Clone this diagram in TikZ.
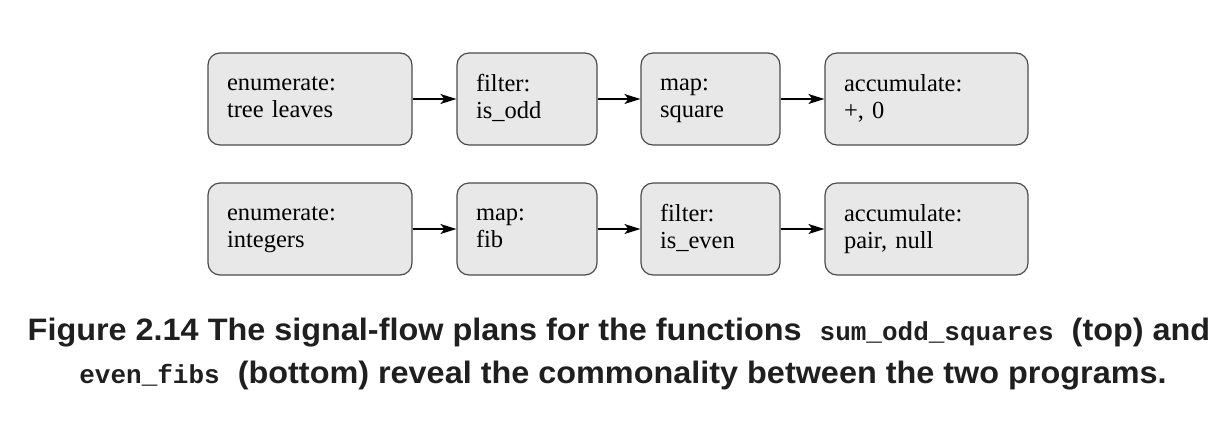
\documentclass[tikz,border=0pt]{standalone}
\usepackage{fontspec}
\setmainfont{Liberation Serif}
\newfontfamily\capfont[FakeStretch=1.045]{Liberation Sans}
\newfontfamily\codefont{Liberation Mono}
\usetikzlibrary{arrows.meta}
\definecolor{boxfill}{HTML}{E8E8E8}
\definecolor{boxline}{HTML}{4C4C4C}
\definecolor{captext}{HTML}{1F1F1F}
\newcommand\lnstrut{\rule[-6pt]{0pt}{21pt}}
\begin{document}
\begin{tikzpicture}[x=1pt,y=-1pt,
  stagebox/.style={draw=boxline, fill=boxfill, line width=1.2pt, rounded corners=12pt,
    minimum height=92pt, inner xsep=19pt, inner ysep=0pt, align=left,
    font=\fontsize{24.5}{27}\selectfont},
  flow/.style={line width=1.6pt, -{Stealth[length=16pt,width=10pt,inset=4pt]}},
  caption/.style={font=\capfont\bfseries\fontsize{31}{43}\selectfont, text=captext}]
\useasboundingbox (0,0) rectangle (1230,440);
\node[stagebox, text width=166pt] (a1) at (310,99) {\lnstrut enumerate:\\\lnstrut tree leaves};
\node[stagebox, text width=102pt] (a2) at (527,99) {\lnstrut filter:\\\lnstrut is\_odd};
\node[stagebox, text width=101pt] (a3) at (710.5,99) {\lnstrut map:\\\lnstrut square};
\node[stagebox, text width=165pt] (a4) at (926.5,99) {\lnstrut accumulate:\\\lnstrut +, 0};
\node[stagebox, text width=166pt] (b1) at (310,229) {\lnstrut enumerate:\\\lnstrut integers};
\node[stagebox, text width=102pt] (b2) at (527,229) {\lnstrut map:\\\lnstrut fib};
\node[stagebox, text width=101pt] (b3) at (710.5,229) {\lnstrut filter:\\\lnstrut is\_even};
\node[stagebox, text width=165pt] (b4) at (926.5,229) {\lnstrut accumulate:\\\lnstrut pair, null};
\draw[flow] (a1) -- (a2);
\draw[flow] (a2) -- (a3);
\draw[flow] (a3) -- (a4);
\draw[flow] (b1) -- (b2);
\draw[flow] (b2) -- (b3);
\draw[flow] (b3) -- (b4);
\node[caption, anchor=base] (c1) at (619,340) {Figure 2.14 The signal-flow plans for the functions \ {\codefont\fontsize{26}{26}\selectfont sum\_odd\_squares}\ \ (top) and};
\node[caption, anchor=base] (c2) at (623,383) {{\codefont\fontsize{26}{26}\selectfont even\_fibs}\ \ (bottom) reveal the commonality between the two programs.};
\end{tikzpicture}
\end{document}
